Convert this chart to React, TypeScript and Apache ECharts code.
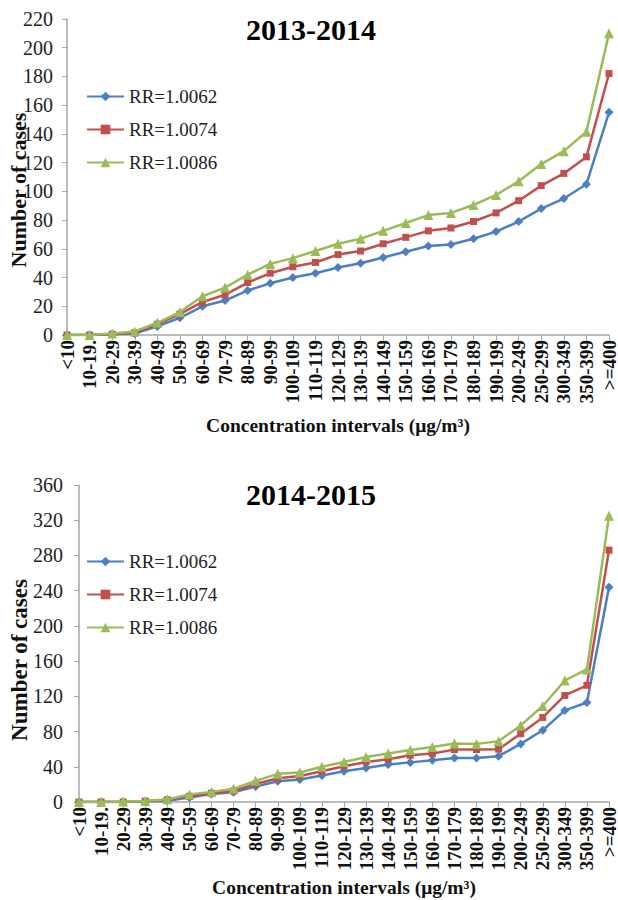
import React, { useEffect, useRef } from "react";
import * as echarts from "echarts";

const categories = [
  "<10", "10-19.", "20-29", "30-39", "40-49", "50-59", "60-69", "70-79", "80-89", "90-99",
  "100-109", "110-119", "120-129", "130-139", "140-149", "150-159", "160-169", "170-179",
  "180-189", "190-199", "200-249", "250-299", "300-349", "350-399", ">=400",
];

const seriesNames = ["RR=1.0062", "RR=1.0074", "RR=1.0086"];
const chartTitles = ["2013-2014", "2014-2015"];
const xAxisTitle = "Concentration intervals (μg/m³)";
const yAxisTitle = "Number of cases";

// 2013-2014
const rr1062_2013 = [0, 0, 0.5, 1, 6, 12, 20, 24, 31, 36, 40, 43, 47, 50, 54, 58, 62, 63, 67, 72, 79, 88, 95, 105, 155];
const rr1074_2013 = [0, 0, 0.5, 1.5, 7.5, 14.5, 23, 28, 36.5, 43, 47.5, 50.5, 56, 58.5, 63.5, 68, 72.5, 74.5, 79, 85, 93.5, 104, 112.5, 124, 182];
const rr1086_2013 = [0, 0, 1, 2.5, 8.5, 16, 27, 33, 42, 49.5, 53.5, 58.5, 63.5, 67, 72.5, 78, 83.5, 85, 90.5, 97.5, 107, 119, 128, 141.5, 210];

// 2014-2015
const rr1062_2014 = [0, 0, 0, 0.5, 1.5, 5, 9, 11, 17.5, 23.5, 25.5, 30, 35, 38.5, 42.5, 45, 47.5, 50, 50, 52, 66, 81.5, 104, 113, 244];
const rr1074_2014 = [0, 0, 0, 1, 2.5, 6.5, 10, 12.5, 20.5, 27, 29.5, 35, 40.5, 45.5, 48.5, 53, 55, 59.5, 59.5, 60, 77.5, 96, 121, 132.5, 286];
const rr1086_2014 = [0, 0, 0.5, 1, 3, 8.5, 11.5, 15, 24, 32, 33.5, 40, 45.5, 51, 55, 59, 62.5, 66.5, 66, 69, 87, 109, 138, 150.5, 325];

const yMaxes = [220, 360];
const yIntervals = [20, 40];

const colors = ["#4a7fc4", "#c0504d", "#9bbb59"];
const symbols = ["diamond", "rect", "triangle"];
const symbolSizes = [9, 7, 10];
const FONT = "'Liberation Serif', 'Times New Roman', serif";

export default function App() {
  const ref = useRef<HTMLDivElement>(null);
  useEffect(() => {
    document.body.style.margin = "0";
    const chart = echarts.init(ref.current!, null, { renderer: "svg" });
    const data = [
      [rr1062_2013, rr1074_2013, rr1086_2013],
      [rr1062_2014, rr1074_2014, rr1086_2014],
    ];
    const grids = [
      { left: 67, right: 9, top: 19, height: 316, outerBoundsMode: "none", containLabel: false },
      { left: 79, right: 9, top: 485, height: 317, outerBoundsMode: "none", containLabel: false },
    ];
    const series: any[] = [];
    data.forEach((group, gi) => {
      group.forEach((vals, si) => {
        series.push({
          type: "line",
          name: seriesNames[si],
          xAxisIndex: gi,
          yAxisIndex: gi,
          data: vals,
          symbol: symbols[si],
          symbolSize: symbolSizes[si],
          showAllSymbol: true,
          lineStyle: { color: colors[si], width: 2.5 },
          itemStyle: { color: colors[si] },
          z: 2 + si,
        });
      });
    });
    const axisColor = "#a6a6a6";
    const option: any = {
      animation: false,
      textStyle: { fontFamily: FONT },
      title: chartTitles.map((t, i) => ({
        text: t,
        left: 311,
        top: i === 0 ? 14 : 479,
        padding: 0,
        textAlign: "center",
        textStyle: { fontFamily: FONT, fontSize: 30, fontWeight: "bold", color: "#000" },
      })),
      legend: [0, 1].map((i) => ({
        data: seriesNames,
        orient: "vertical",
        left: 86,
        top: i === 0 ? 87 : 552,
        padding: 0,
        itemWidth: 37,
        itemHeight: 12,
        itemGap: 14,
        textStyle: { fontFamily: FONT, fontSize: 19, color: "#222" },
        selectedMode: false,
      })),
      graphic: [
        { type: "text", x: 18, y: 190, rotation: Math.PI / 2, style: { text: yAxisTitle, font: `bold 22px ${FONT}`, fill: "#111", align: "center", verticalAlign: "middle" } },
        { type: "text", x: 19, y: 660, rotation: Math.PI / 2, style: { text: yAxisTitle, font: `bold 23px ${FONT}`, fill: "#111", align: "center", verticalAlign: "middle" } },
      ],
      grid: grids,
      xAxis: [0, 1].map((i) => ({
        type: "category",
        gridIndex: i,
        data: categories,
        boundaryGap: false,
        axisLine: { lineStyle: { color: axisColor, width: 1.5 } },
        axisTick: { show: true, length: 5, lineStyle: { color: axisColor } },
        axisLabel: {
          interval: 0,
          rotate: 90,
          fontFamily: FONT,
          fontSize: 19,
          lineHeight: 16,
          fontWeight: "bold",
          color: "#111",
          margin: 5,
        },
        name: xAxisTitle,
        nameLocation: "middle",
        nameGap: i === 0 ? 80 : 75,
        nameTextStyle: { fontFamily: FONT, fontSize: 19.5, fontWeight: "bold", color: "#111" },
      })),
      yAxis: [0, 1].map((i) => ({
        type: "value",
        gridIndex: i,
        min: 0,
        max: yMaxes[i],
        interval: yIntervals[i],
        splitLine: { show: false },
        axisLine: { show: true, lineStyle: { color: axisColor, width: 1.5 } },
        axisTick: { show: true, length: 5, lineStyle: { color: axisColor } },
        axisLabel: { fontFamily: FONT, fontSize: 20, color: "#222", margin: i === 0 ? 14 : 16 },
      })),
      series,
    };
    chart.setOption(option);
    return () => chart.dispose();
  }, []);
  return <div ref={ref} style={{ width: 618, height: 900 }} />;
}
